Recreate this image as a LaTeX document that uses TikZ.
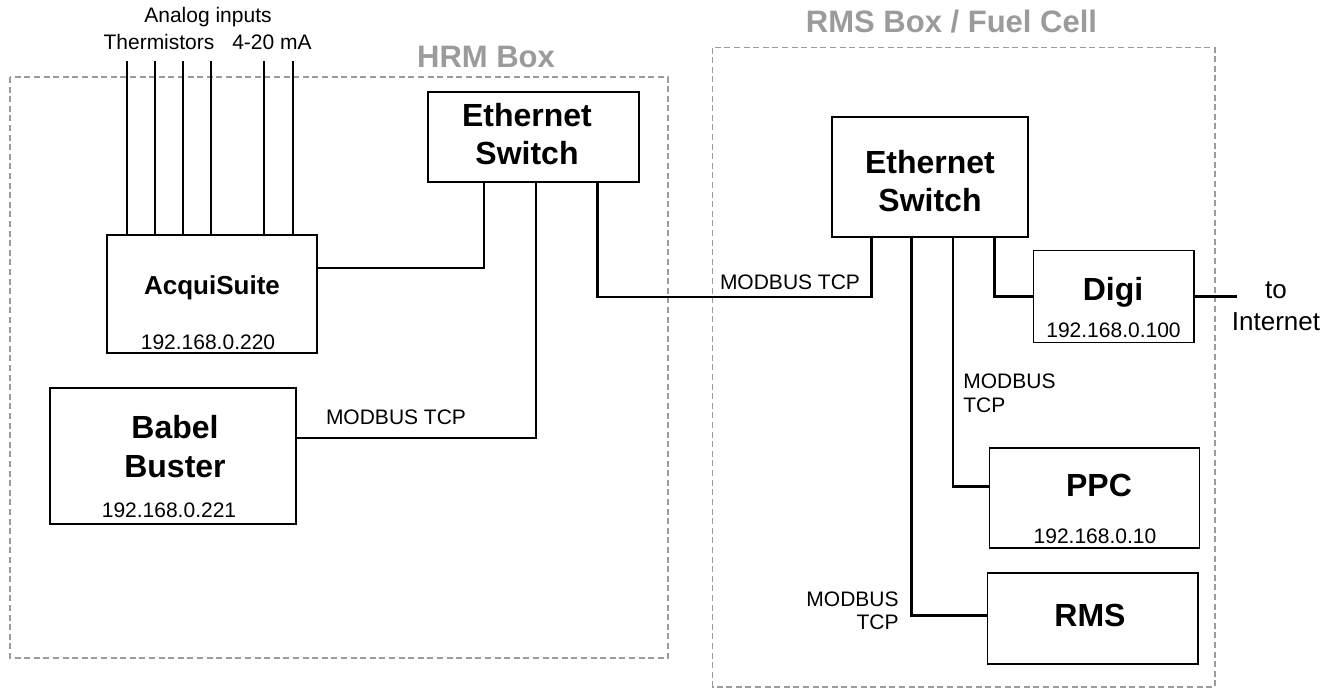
\documentclass[tikz,border=0pt]{standalone}
\usepackage{fontspec}
\setmainfont{Liberation Sans}
\definecolor{regiongray}{RGB}{155,155,155}
\tikzset{
  region/.style={draw=regiongray, line width=0.65pt, dash pattern=on 3pt off 1.8pt},
  regiontitle/.style={text=regiongray, font=\bfseries\fontsize{15.5}{18}\selectfont, inner sep=0pt},
  devbox/.style={draw, line width=0.8pt, inner sep=0pt},
  devname/.style={font=\bfseries\fontsize{16}{19}\selectfont, align=center, inner sep=0pt},
  ipaddr/.style={font=\fontsize{10.5}{12}\selectfont, inner sep=0pt},
  note/.style={font=\fontsize{10.5}{11.7}\selectfont, inner sep=0pt},
  link/.style={line width=1.4pt},
  wire/.style={line width=1pt}
}
\begin{document}
\begin{tikzpicture}[x=0.5pt,y=-0.5pt]
    \useasboundingbox (0,0) rectangle (1338,689);
    % dashed enclosures
    \draw[region] (10,77) rectangle (668,658);
    \draw[region] (712.6,47.7) rectangle (1215,687);
    \node[regiontitle] (hrmtitle) at (486,57) {HRM Box};
    \node[regiontitle] (rmstitle) at (951.5,22) {RMS Box / Fuel Cell};
    % HRM box
    \node[devbox, minimum width=105.5pt, minimum height=45pt] (hsw) at (533.5,137) {};
    \node[devname] (hswtext) at (527,134) {Ethernet\\Switch};
    \node[devbox, minimum width=105pt, minimum height=59pt] (acq) at (212,294) {};
    \node[devname, font=\bfseries\fontsize{13}{15}\selectfont] (acqtext) at (212,288) {AcquiSuite};
    \node[ipaddr] (acqip) at (208,342) {192.168.0.220};
    \node[devbox, minimum width=123pt, minimum height=68pt] (babel) at (173,456) {};
    \node[devname, font=\bfseries\fontsize{16}{19.5}\selectfont] (babeltext) at (175,447) {Babel\\Buster};
    \node[ipaddr] (babelip) at (169,510) {192.168.0.221};
    % analog inputs
    \node[note] (analog) at (208,17) {Analog inputs};
    \node[note] (therm) at (159,42) {Thermistors};
    \node[note] (milli) at (272,42) {4-20 mA};
    \foreach \x/\i in {126.5/1,154.7/2,182.9/3,210.7/4,264/5,292.7/6} {
        \coordinate (in\i) at (\x,61);
        \draw[wire] (in\i) -- (in\i |- acq.north);
    }
    % RMS box
    \node[devbox, minimum width=98pt, minimum height=60pt] (rsw) at (930,177) {};
    \node[devname] (rswtext) at (930,181) {Ethernet\\Switch};
    \node[devbox, minimum width=80.25pt, minimum height=46pt] (digi) at (1113.75,296.7) {};
    \node[devname] (digitext) at (1113,292) {Digi};
    \node[ipaddr] (digiip) at (1113.5,330) {192.168.0.100};
    \node[devbox, minimum width=105pt, minimum height=50pt] (ppc) at (1094.6,498) {};
    \node[devname] (ppctext) at (1099,485) {PPC};
    \node[ipaddr] (ppcip) at (1095,536.7) {192.168.0.10};
    \node[devbox, minimum width=105.3pt, minimum height=45.5pt] (rms) at (1092.7,618.5) {};
    \node[devname] (rmstext) at (1090,615) {RMS};
    \node[font=\fontsize{13}{16}\selectfont, align=center, inner sep=0pt] (inettext) at (1276,306) {to\\Internet};
    \coordinate (inet) at (1236.7,296.7);
    % connections
    \draw[link] (acq.east |- 0,268) -| (484,0 |- hsw.south);
    \draw[link] (babel.east |- 0,438) -| (536,0 |- hsw.south);
    \node[note] (mbbabel) at (396,417) {MODBUS TCP};
    \draw[link] (597.5,0 |- hsw.south) -- (597.5,297) -| (871.5,0 |- rsw.south);
    \node[note] (mbtrunk) at (790,282) {MODBUS TCP};
    \draw[link] (994.7,0 |- rsw.south) |- (digi.west);
    \draw[link] (digi.east) -- (inet);
    \draw[link] (953,0 |- rsw.south) |- (ppc.west |- 0,486.7);
    \node[note, align=left, anchor=west] (mbppc) at (963,393.4) {MODBUS\\TCP};
    \draw[link] (911.6,0 |- rsw.south) |- (rms.west |- 0,615.7);
    \node[note, align=right, anchor=east] (mbrms) at (899,611) {MODBUS\\TCP};
\end{tikzpicture}
\end{document}
